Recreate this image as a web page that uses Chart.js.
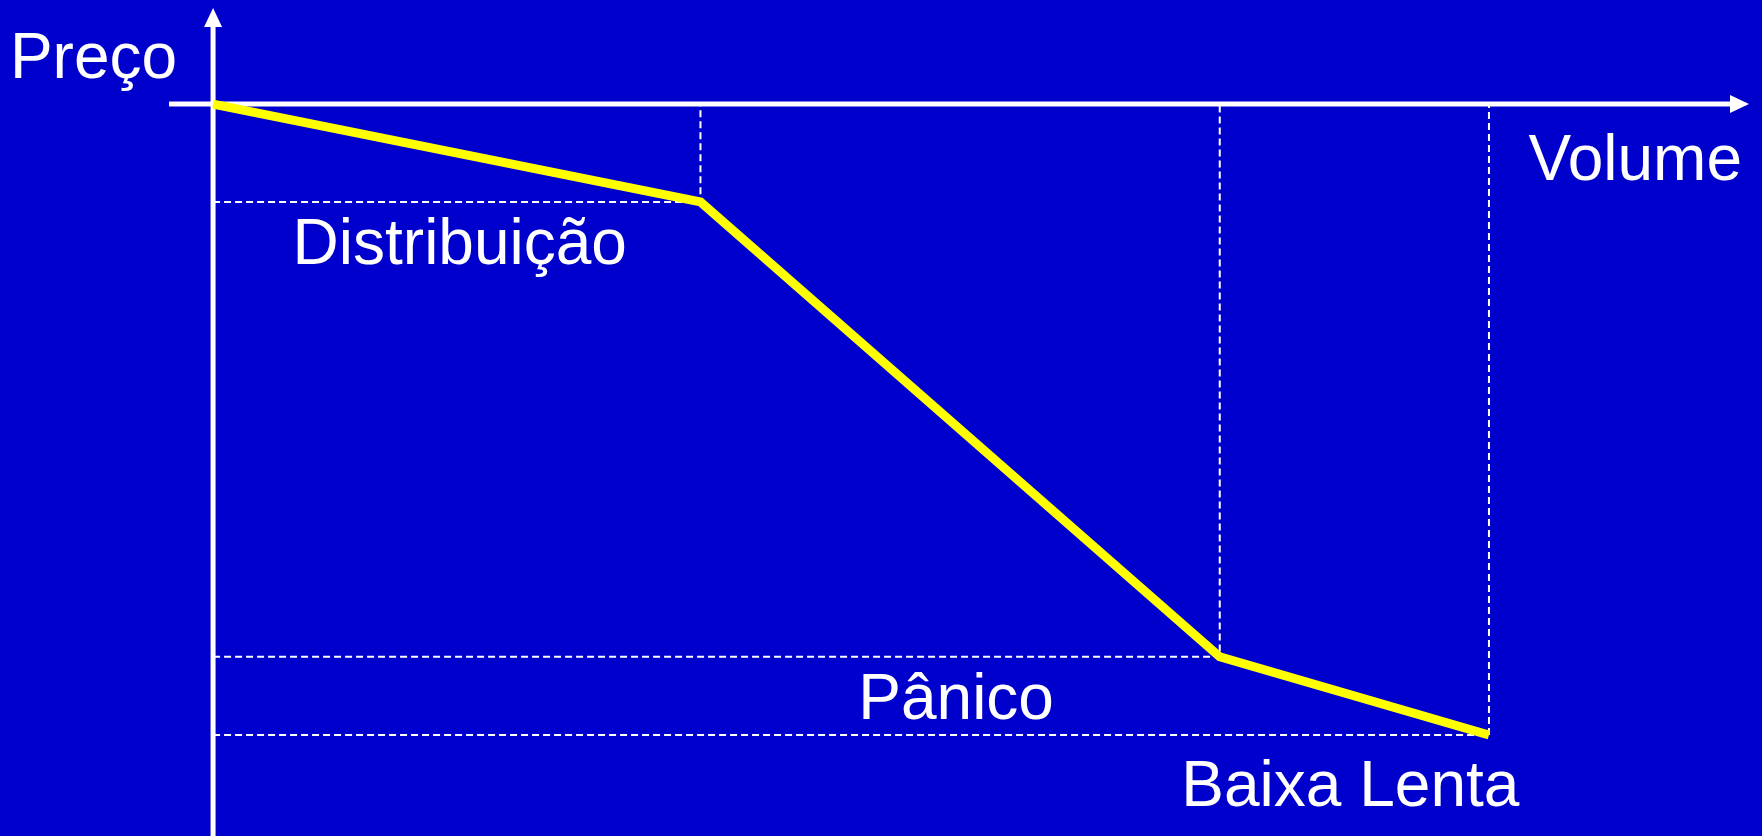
<!DOCTYPE html>
<html>
<head>
<meta charset="utf-8">
<script src="https://cdn.jsdelivr.net/npm/chart.js@4/dist/chart.umd.min.js"></script>
<style>
	html, body { margin: 0; padding: 0; background: #0000cc; overflow: hidden; }
	canvas { display: block; }
</style>
</head>
<body>
<canvas id="phaseChart" width="1762" height="836"></canvas>
<script>
const volume = [0, 38.2, 78.9, 100];
const price = [100, 84.5, 12.4, 0];
const phaseLabels = ["Distribuição", "Pânico", "Baixa Lenta"];
const xTitle = "Volume";
const yTitle = "Preço";

const fontFamily = "'Liberation Sans', Arial, sans-serif";

const curve = volume.map((v, i) => ({ x: v, y: price[i] }));

// dashed guide lines from each corner back to the axes
const guides = [];
for (let i = 1; i < volume.length; i++) {
	guides.push({
		data: [{ x: 0, y: price[i] }, { x: volume[i], y: price[i] }, { x: volume[i], y: price[0] }],
		borderColor: "#ffffff",
		borderWidth: 2,
		borderDash: [7, 4],
		pointRadius: 0,
		showLine: true,
		fill: false,
		order: 2,
	});
}

const axesPlugin = {
	id: "axes",
	beforeDatasetsDraw(chart) {
		const { ctx } = chart;
		const xs = chart.scales.x;
		const ys = chart.scales.y;
		const ox = xs.getPixelForValue(0);
		const oy = ys.getPixelForValue(price[0]);
		ctx.save();
		ctx.strokeStyle = "#ffffff";
		ctx.fillStyle = "#ffffff";
		ctx.lineWidth = 5;
		// vertical axis
		ctx.beginPath();
		ctx.moveTo(ox, chart.height);
		ctx.lineTo(ox, 24);
		ctx.stroke();
		ctx.beginPath();
		ctx.moveTo(ox, 8);
		ctx.lineTo(ox - 9, 27);
		ctx.lineTo(ox + 9, 27);
		ctx.closePath();
		ctx.fill();
		// horizontal axis
		ctx.beginPath();
		ctx.moveTo(ox - 44, oy);
		ctx.lineTo(1732, oy);
		ctx.stroke();
		ctx.beginPath();
		ctx.moveTo(1749, oy);
		ctx.lineTo(1730, oy - 9);
		ctx.lineTo(1730, oy + 9);
		ctx.closePath();
		ctx.fill();
		ctx.restore();
	},
	afterDraw(chart) {
		const { ctx } = chart;
		const xs = chart.scales.x;
		const ys = chart.scales.y;
		const ox = xs.getPixelForValue(0);
		const oy = ys.getPixelForValue(price[0]);
		ctx.save();
		ctx.fillStyle = "#ffffff";
		ctx.font = "64px " + fontFamily;
		ctx.textBaseline = "alphabetic";
		ctx.textAlign = "right";
		ctx.fillText(yTitle, ox - 36, 78);
		ctx.fillText(xTitle, 1742, oy + 76);
		ctx.textAlign = "center";
		phaseLabels.forEach((label, i) => {
			const cx = (xs.getPixelForValue(volume[i]) + xs.getPixelForValue(volume[i + 1])) / 2 + (i === 0 ? 3 : -4);
			const by = ys.getPixelForValue(price[i + 1]) + (i === 2 ? 71 : 62);
			ctx.fillText(label, cx, by);
		});
		ctx.restore();
	},
};

new Chart(document.getElementById("phaseChart"), {
	type: "scatter",
	data: {
		datasets: [
			{
				data: curve,
				borderColor: "#ffff00",
				borderWidth: 9,
				pointRadius: 0,
				showLine: true,
				fill: false,
				order: 0,
			},
			...guides,
		],
	},
	options: {
		responsive: false,
		maintainAspectRatio: false,
		animation: false,
		layout: { padding: 0 },
		plugins: {
			legend: { display: false },
			tooltip: { enabled: false },
		},
		scales: {
			x: { type: "linear", min: -16.7, max: 121.4, display: false },
			y: { type: "linear", min: -16.0, max: 116.5, display: false },
		},
	},
	plugins: [axesPlugin],
});
</script>
</body>
</html>
